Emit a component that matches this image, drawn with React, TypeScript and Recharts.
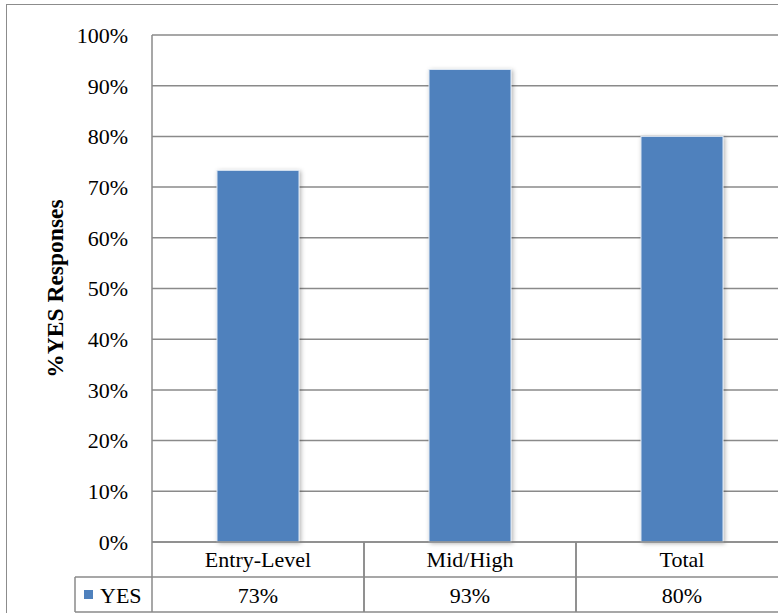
import React from "react";
import { BarChart, Bar, XAxis, YAxis, CartesianGrid, Label } from "recharts";

const categories = ["Entry-Level", "Mid/High", "Total"];
const yesValues = [73.3, 93.2, 80.0];
const yTicks = [0, 10, 20, 30, 40, 50, 60, 70, 80, 90, 100];
const seriesName = "YES";
const yTitle = "%YES Responses";

const data = categories.map((name, i) => ({ name, yes: yesValues[i] }));

const FONT = '"Liberation Serif", "Times New Roman", serif';
const LINE = "#8a8a8a";
const BAR = "#4f81bd";
const HALF_CELL = 106; // half of one category column
const ROW = 35;

function BarShape(props: any) {
  const { x, y, width, height } = props;
  return (
    <g>
      <defs>
        <filter id="barShadow" x="-20%" y="-10%" width="140%" height="120%">
          <feDropShadow dx="1.5" dy="1" stdDeviation="2" floodColor="#000" floodOpacity="0.3" />
        </filter>
      </defs>
      <rect
        x={x}
        y={y}
        width={width}
        height={height}
        fill={BAR}
        stroke="#dce6f2"
        strokeWidth={1}
        filter="url(#barShadow)"
      />
    </g>
  );
}

// each x tick draws its own column of the data table underneath the plot
function TableTick(props: any) {
  const { x, y, payload, index } = props;
  const left = x - HALF_CELL;
  const right = x + HALF_CELL;
  const value = yesValues[index];
  const line = { stroke: LINE, strokeWidth: 1.5 };
  return (
    <g>
      <line x1={left} x2={left} y1={y} y2={y + ROW * 2} {...line} />
      <line x1={right} x2={right} y1={y} y2={y + ROW * 2} {...line} />
      <line x1={left} x2={right} y1={y + ROW} y2={y + ROW} {...line} />
      <line x1={left} x2={right} y1={y + ROW * 2} y2={y + ROW * 2} {...line} />
      <text x={x} y={y + 25} textAnchor="middle" fontSize={22} fontFamily={FONT} fill="#000">
        {payload.value}
      </text>
      <text x={x} y={y + 61} textAnchor="middle" fontSize={22} fontFamily={FONT} fill="#000">
        {Math.round(value)}%
      </text>
      {index === 0 && (
        <g>
          <line x1={left - 77} x2={left - 77} y1={y + ROW} y2={y + ROW * 2} {...line} />
          <line x1={left - 77} x2={left} y1={y + ROW} y2={y + ROW} {...line} />
          <line x1={left - 77} x2={left} y1={y + ROW * 2} y2={y + ROW * 2} {...line} />
          <rect x={left - 68} y={y + 48} width={9} height={9} fill={BAR} />
          <text x={left - 52} y={y + 61} fontSize={22} fontFamily={FONT} fill="#000">
            {seriesName}
          </text>
        </g>
      )}
    </g>
  );
}

function YTitle(props: any) {
  const vb = props.viewBox || {};
  const cy = (vb.y ?? 35) + (vb.height ?? 507) / 2;
  return (
    <text
      x={63}
      y={cy}
      transform={`rotate(-90, 63, ${cy})`}
      textAnchor="middle"
      fontSize={23.5}
      fontWeight="bold"
      fontFamily={FONT}
      fill="#000"
    >
      {yTitle}
    </text>
  );
}

export default function App() {
  return (
    <div
      style={{
        position: "fixed",
        left: 0,
        top: 0,
        width: 778,
        height: 613,
        overflow: "hidden",
        background: "#fff",
      }}
    >
      <div
        style={{
          position: "absolute",
          left: 6,
          top: 4,
          width: 820,
          height: 700,
          border: "1px solid #8c8c8c",
        }}
      />
      <div style={{ position: "absolute", left: 0, top: 0 }}>
        <BarChart
          width={800}
          height={613}
          data={data}
          margin={{ top: 35, right: 12, bottom: 0, left: 0 }}
          barSize={82}
        >
          <CartesianGrid vertical={false} stroke={LINE} strokeWidth={1.5} />
          <XAxis
            dataKey="name"
            height={71}
            interval={0}
            tickLine={false}
            tickSize={0}
            tickMargin={0}
            axisLine={{ stroke: LINE, strokeWidth: 1.5 }}
            tick={(p: any) => <TableTick {...p} />}
          />
          <YAxis
            width={152}
            domain={[0, 100]}
            ticks={yTicks}
            interval={0}
            tickFormatter={(v: number) => `${v}%`}
            tickLine={false}
            tickSize={0}
            tickMargin={24}
            axisLine={{ stroke: LINE, strokeWidth: 1.5 }}
            tick={{ fontSize: 22, fontFamily: FONT, fill: "#000" }}
          >
            <Label content={(p: any) => <YTitle {...p} />} />
          </YAxis>
          <Bar dataKey="yes" name={seriesName} shape={(p: any) => <BarShape {...p} />} isAnimationActive={false} />
        </BarChart>
      </div>
    </div>
  );
}
